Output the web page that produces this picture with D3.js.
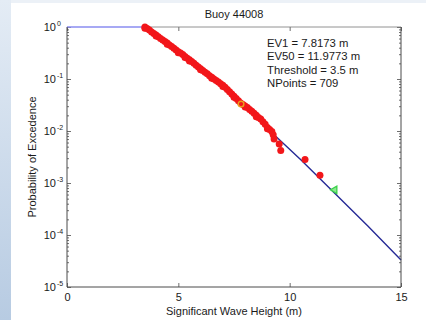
<!DOCTYPE html>
<html>
<head>
<meta charset="utf-8">
<script src="https://cdn.jsdelivr.net/npm/d3@7/dist/d3.min.js"></script>
<style>
  html, body { margin: 0; padding: 0; background: #ffffff; }
  svg { display: block; }
  text { font-family: "Liberation Sans", Arial, sans-serif; fill: #1a1a1a; }
</style>
</head>
<body>
<svg id="chart" width="426" height="320"></svg>
<script>
// Observed significant wave heights (m) above threshold and their exceedance probabilities
const waveHeights = [
  3.5, 3.5, 3.6, 3.7, 3.8, 3.9, 4.0, 4.0, 4.1, 4.2, 4.3, 4.4, 4.5, 4.5, 4.6, 4.7, 4.8, 4.9,
  5.0, 5.0, 5.1, 5.2, 5.3, 5.3, 5.4, 5.5, 5.5, 5.6, 5.7, 5.8, 5.9, 6.0, 6.0, 6.1, 6.2, 6.3, 6.4, 6.5, 6.5,
  6.6, 6.7, 6.8, 6.9, 7.0, 7.0, 7.1, 7.2, 7.3, 7.4, 7.5, 7.5, 7.6, 7.7, 7.8, 7.9, 8.0, 8.0, 8.1,
  8.2, 8.3, 8.4, 8.5, 8.5, 8.6, 8.7, 8.8, 8.9, 9.0, 9.0, 9.1, 9.2, 9.26, 9.3, 9.53, 9.6,
  10.69, 11.36
];
const exceedProb = [
  1.0, 0.95, 0.933, 0.871, 0.804, 0.750, 0.700, 0.675, 0.646, 0.603, 0.562, 0.525, 0.490, 0.468, 0.452, 0.422, 0.389, 0.363,
  0.335, 0.318, 0.316, 0.295, 0.272, 0.258, 0.251, 0.234, 0.222, 0.216, 0.200, 0.184, 0.170, 0.158, 0.150, 0.146, 0.135, 0.126, 0.116, 0.108, 0.103,
  0.100, 0.0933, 0.0871, 0.0813, 0.0759, 0.0715, 0.0692, 0.0631, 0.0569, 0.0513, 0.0468, 0.0445, 0.0422, 0.0380, 0.0347, 0.0324, 0.0302, 0.0288, 0.0282,
  0.0260, 0.0240, 0.0219, 0.0200, 0.0188, 0.0182, 0.0170, 0.0151, 0.0135, 0.0117, 0.0110, 0.0107, 0.00977, 0.00846, 0.00705, 0.00564, 0.00423,
  0.00282, 0.00141
];

// Fitted exceedance curve (flat at 1 below the threshold)
const fitHeights = [0, 3.5, 5, 6, 7, 8, 9.3, 10.5, 12, 13.5, 15];
const fitProb    = [1, 1, 0.33, 0.15, 0.066, 0.029, 0.0085, 0.0028, 6.5e-4, 1.5e-4, 3.3e-5];

// Return-level estimates
const ev1Height = 7.8173,  ev1Prob = 0.033;
const ev50Height = 11.9773, ev50Prob = 7.4e-4;

const statLines = ["EV1 = 7.8173 m", "EV50 = 11.9773 m", "Threshold = 3.5 m", "NPoints = 709"];
const xTicks = [0, 5, 10, 15];
const yExponents = [0, -1, -2, -3, -4, -5];

const svg = d3.select("#chart");
const W = 426, H = 320;
const plot = { left: 67, right: 401, top: 27, bottom: 287 };

// Slide-style backdrop
const defs = svg.append("defs");
const gLeft = defs.append("linearGradient").attr("id", "leftStrip")
  .attr("x1", 0).attr("y1", 0).attr("x2", 0).attr("y2", 1);
gLeft.append("stop").attr("offset", "0%").attr("stop-color", "#e4ecf5");
gLeft.append("stop").attr("offset", "100%").attr("stop-color", "#b7cbe2");
svg.append("rect").attr("width", W).attr("height", H).attr("fill", "#ffffff");
svg.append("rect").attr("x", 0).attr("y", 0).attr("width", W).attr("height", 3).attr("fill", "#ecf1f7");
svg.append("rect").attr("x", 0).attr("y", 0).attr("width", 11).attr("height", H).attr("fill", "url(#leftStrip)");

const x = d3.scaleLinear().domain([0, 15]).range([plot.left, plot.right]);
const y = d3.scaleLog().domain([1e-5, 1]).range([plot.bottom, plot.top]);

const axisColor = "#4a4a4a";

// Minor log ticks
const minorVals = [];
for (let e = -5; e < 0; e++) {
  for (let m = 2; m <= 9; m++) minorVals.push(m * Math.pow(10, e));
}
const majorVals = yExponents.map(e => Math.pow(10, e));

function styleAxis(g) {
  g.select(".domain").remove();
  g.selectAll("line").attr("stroke", axisColor).attr("stroke-width", 0.8);
}

svg.append("g").attr("transform", `translate(${plot.left},0)`)
  .call(d3.axisLeft(y).tickValues(minorVals).tickSize(-2).tickFormat("")).call(styleAxis);
svg.append("g").attr("transform", `translate(${plot.right},0)`)
  .call(d3.axisRight(y).tickValues(minorVals).tickSize(-2).tickFormat("")).call(styleAxis);
svg.append("g").attr("transform", `translate(${plot.left},0)`)
  .call(d3.axisLeft(y).tickValues(majorVals).tickSize(-4).tickFormat("")).call(styleAxis);
svg.append("g").attr("transform", `translate(${plot.right},0)`)
  .call(d3.axisRight(y).tickValues(majorVals).tickSize(-4).tickFormat("")).call(styleAxis);

const xb = svg.append("g").attr("transform", `translate(0,${plot.bottom})`)
  .call(d3.axisBottom(x).tickValues(xTicks).tickSize(-4).tickPadding(6).tickFormat(d3.format("d")));
styleAxis(xb);
xb.selectAll("text").attr("font-size", 11).attr("fill", "#1a1a1a")
  .style("font-family", "'Liberation Sans', Arial, sans-serif");
svg.append("g").attr("transform", `translate(0,${plot.top})`)
  .call(d3.axisTop(x).tickValues(xTicks).tickSize(-4).tickFormat("")).call(styleAxis);

// Y tick labels: 10 with superscript exponent
yExponents.forEach(e => {
  svg.append("text")
    .attr("x", 56).attr("y", y(Math.pow(10, e)) + 4)
    .attr("text-anchor", "end").attr("font-size", 11).text("10");
  svg.append("text")
    .attr("x", 57).attr("y", y(Math.pow(10, e)) - 1)
    .attr("text-anchor", "start").attr("font-size", 7).text(String(e));
});

// Fitted curve: flat part and tail
const line = d3.line().x(d => x(d[0])).y(d => y(d[1]));
const fitPts = fitHeights.map((h, i) => [h, fitProb[i]]);
svg.append("path").datum(fitPts.slice(1))
  .attr("d", line).attr("fill", "none")
  .attr("stroke", "#262a96").attr("stroke-width", 1.4);
svg.append("path").datum(fitPts.slice(0, 2))
  .attr("d", line).attr("fill", "none")
  .attr("stroke", "#8a8cf0").attr("stroke-width", 1.5);

// Box outline (top edge starts where the flat curve segment ends)
svg.append("line").attr("x1", plot.left).attr("x2", plot.right).attr("y1", plot.bottom).attr("y2", plot.bottom)
  .attr("stroke", axisColor).attr("stroke-width", 1);
svg.append("line").attr("x1", plot.left).attr("x2", plot.left).attr("y1", plot.top).attr("y2", plot.bottom)
  .attr("stroke", axisColor).attr("stroke-width", 1);
svg.append("line").attr("x1", plot.right).attr("x2", plot.right).attr("y1", plot.top).attr("y2", plot.bottom)
  .attr("stroke", axisColor).attr("stroke-width", 1);
svg.append("line").attr("x1", x(3.5)).attr("x2", plot.right).attr("y1", plot.top).attr("y2", plot.top)
  .attr("stroke", "#777").attr("stroke-width", 0.8);

// Observed points
svg.append("g").selectAll("circle")
  .data(waveHeights.map((h, i) => [h, exceedProb[i]]))
  .join("circle")
  .attr("cx", d => x(d[0])).attr("cy", d => y(d[1]))
  .attr("r", 3.5).attr("fill", "#f2161a");

// EV1 marker
svg.append("circle").attr("cx", x(ev1Height)).attr("cy", y(ev1Prob))
  .attr("r", 2.8).attr("fill", "none").attr("stroke", "#e8a21e").attr("stroke-width", 1.4);

// EV50 marker
svg.append("path")
  .attr("d", d3.symbol(d3.symbolTriangle, 24)())
  .attr("transform", `translate(${x(ev50Height) + 1},${y(ev50Prob)}) rotate(-90)`)
  .attr("fill", "#8be88f").attr("stroke", "#3cd24a").attr("stroke-width", 1.3);

// Title and axis labels
svg.append("text").attr("x", (plot.left + plot.right) / 2).attr("y", 18)
  .attr("text-anchor", "middle").attr("font-size", 11).text("Buoy 44008");
svg.append("text").attr("x", (plot.left + plot.right) / 2).attr("y", 315)
  .attr("text-anchor", "middle").attr("font-size", 11).text("Significant Wave Height (m)");
svg.append("text").attr("transform", `translate(36,${(plot.top + plot.bottom) / 2}) rotate(-90)`)
  .attr("text-anchor", "middle").attr("font-size", 11).text("Probability of Excedence");

// Statistics block
svg.append("g").selectAll("text").data(statLines).join("text")
  .attr("x", 267).attr("y", (d, i) => 47 + i * 13.3)
  .attr("font-size", 11.3).text(d => d);
</script>
</body>
</html>
